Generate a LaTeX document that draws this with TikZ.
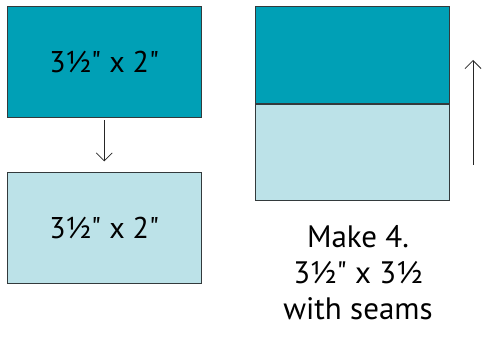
\documentclass[tikz,border=0pt]{standalone}
\usepackage{fontspec}
\newfontfamily\quiltfont{PT Sans}
\usepackage{xcolor}
\definecolor{quiltTeal}{HTML}{00A0B6}
\definecolor{quiltAqua}{HTML}{BCE2E8}
\definecolor{quiltEdge}{HTML}{333A3C}
\usetikzlibrary{arrows.meta, positioning}

\begin{document}
\begin{tikzpicture}[
		x=1pt, y=1pt,
		node distance=55pt,
		patch/.style={
			draw=quiltEdge,
			line width=0.8pt,
			minimum width=193.5pt,
			minimum height=110.5pt,
			inner sep=0pt,
			align=center,
			font=\quiltfont\fontsize{30}{36}\selectfont
		},
		half/.style={
			patch,
			minimum width=194pt,
			minimum height=96.75pt
		},
		arrow/.style={-{Straight Barb[length=8pt,width=16pt]}, line width=0.8pt, black!85}
		]
		\useasboundingbox (0,0) rectangle (482,337);
		
		\node[patch, fill=quiltTeal] (dark) at (104.25,275.25) {3½" x 2"};
		\node[patch, fill=quiltAqua, below=of dark] (light) {3½" x 2"};
		
		\node[half, fill=quiltTeal] (top) at (352.5,282.25) {};
		\node[half, fill=quiltAqua, below=0pt of top] (bottom) {};
		
		\node[align=center, font=\quiltfont\fontsize{31}{36}\selectfont] (caption) at (358,64)
			{Make 4.\\3½" x 3½\\with seams};
		
		\coordinate (up start) at (473,172);
		\coordinate (up end) at (473,277);
		
		\draw[arrow, shorten <=3pt, shorten >=11pt] (dark) -- (light);
		\draw[arrow] (up start) -- (up end);
		
	\end{tikzpicture}
\end{document}
